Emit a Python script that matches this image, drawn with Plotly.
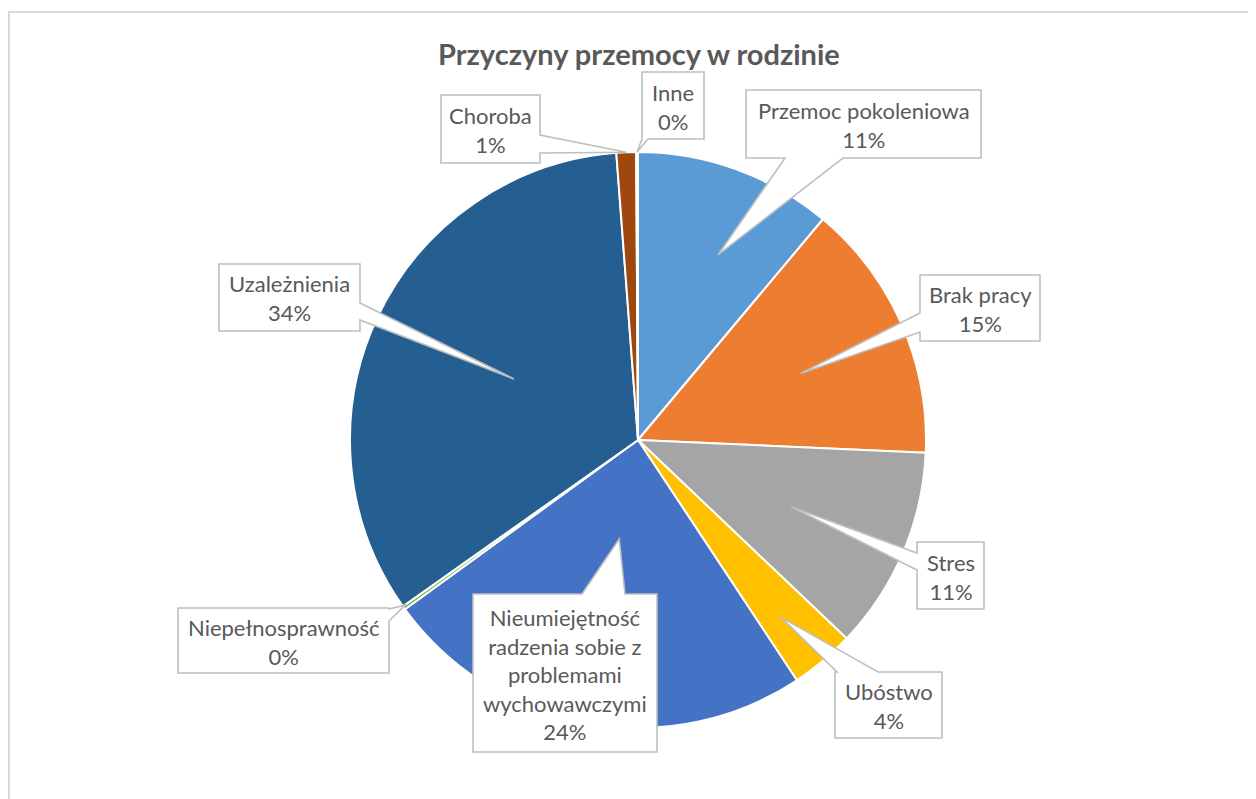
import math
import plotly.graph_objects as go

# ---------------- data ----------------
categories = ["Przemoc pokoleniowa", "Brak pracy", "Stres", "Ubóstwo",
              "Nieumiejętność radzenia sobie z problemami wychowawczymi",
              "Niepełnosprawność", "Uzależnienia", "Choroba", "Inne"]
values = [11.1, 14.6, 11.4, 3.6, 24.3, 0.2, 33.6, 1.1, 0.1]
label_lines = ["Przemoc pokoleniowa", "Brak pracy", "Stres", "Ubóstwo",
               "Nieumiejętność<br>radzenia sobie z<br>problemami<br>wychowawczymi",
               "Niepełnosprawność", "Uzależnienia", "Choroba", "Inne"]
title_text = "Przyczyny przemocy w rodzinie"

# ---------------- style / layout ----------------
colors = ["#5B9BD5", "#ED7D31", "#A5A5A5", "#FFC000", "#4472C4",
          "#70AD47", "#255E91", "#9E480E", "#636363"]
W, H = 1256, 799
OFF = 8  # page body margin
CX, CY, R = 638, 440, 288
TXT = "#595959"
BORDER = "#BFBFBF"

# callout boxes in pixel coords: (x0, y0, x1, y1), side, base span on that side
boxes = [
    ((746, 90, 981, 158), "bottom", (785, 843)),
    ((920, 275, 1040, 341), "left", (313, 332)),
    ((917, 542, 984, 609), "left", (553, 570)),
    ((835, 672, 942, 738), "top", (837, 878)),
    ((473, 594, 657, 752), "top", (582, 625)),
    ((178, 608, 389, 673), "right", (609, 621)),
    ((219, 264, 360, 331), "right", (303, 320)),
    ((441, 95, 540, 163), "right", (135, 153)),
    ((642, 72, 704, 139), "bottom", (642, 648)),
]
# pointer tip: fraction of radius and angle tweak (deg) relative to slice mid-angle
tip_r = [0.70, 0.61, 0.58, 0.79, 0.35, 0.99, 0.48, 1.0, 1.0]
tip_da = [3.4, 1.5, 0.5, 1.1, 0.5, 0.3, 1.0, 0.0, 0.0]


def px(x):
    return (x - OFF) / W


def py(y):
    return 1 - (y - OFF) / H


total = sum(values)
fig = go.Figure()
fig.add_trace(go.Pie(
    labels=categories, values=values, sort=False, direction="clockwise",
    rotation=0, textinfo="none", hoverinfo="label+percent",
    marker=dict(colors=colors, line=dict(color="white", width=2)),
    domain=dict(x=[px(CX - R), px(CX + R)], y=[py(CY + R), py(CY - R)]),
    showlegend=False,
))

shapes = [dict(type="rect", xref="paper", yref="paper",
               x0=px(9), y0=py(12), x1=px(W + 30), y1=py(H + 30),
               line=dict(color="#D9D9D9", width=2), fillcolor="rgba(0,0,0,0)",
               layer="below")]
annotations = []

cum = 0.0
for i, v in enumerate(values):
    mid = (cum + v / 2) / total * 360 + tip_da[i]
    cum += v
    th = math.radians(mid)
    tx = CX + tip_r[i] * R * math.sin(th)
    ty = CY - tip_r[i] * R * math.cos(th)
    (x0, y0, x1, y1), side, (a, b) = boxes[i]
    pts = [(x0, y0)]
    if side == "top":
        pts += [(a, y0), (tx, ty), (b, y0)]
    pts.append((x1, y0))
    if side == "right":
        pts += [(x1, a), (tx, ty), (x1, b)]
    pts.append((x1, y1))
    if side == "bottom":
        pts += [(b, y1), (tx, ty), (a, y1)]
    pts.append((x0, y1))
    if side == "left":
        pts += [(x0, b), (tx, ty), (x0, a)]
    path = "M " + " L ".join(f"{px(x):.5f},{py(y):.5f}" for x, y in pts) + " Z"
    shapes.append(dict(type="path", xref="paper", yref="paper", path=path,
                       fillcolor="white", line=dict(color=BORDER, width=1.6),
                       layer="above"))
    pct = int(v / total * 100 + 0.5)
    annotations.append(dict(
        x=px((x0 + x1) / 2), y=py((y0 + y1) / 2 + 1), xref="paper", yref="paper",
        text=f"{label_lines[i]}<br>{pct}%", showarrow=False,
        xanchor="center", yanchor="middle", align="center",
        font=dict(family="Lato, sans-serif", size=22, color=TXT)))

annotations.append(dict(
    x=px(639), y=py(53), xref="paper", yref="paper",
    text=f"<b>{title_text}</b>", showarrow=False,
    xanchor="center", yanchor="middle",
    font=dict(family="Lato, sans-serif", size=29, color=TXT)))

fig.update_layout(
    width=W, height=H, margin=dict(l=0, r=0, t=0, b=0),
    paper_bgcolor="white", plot_bgcolor="white",
    shapes=shapes, annotations=annotations,
)
fig.write_html("out.html")
